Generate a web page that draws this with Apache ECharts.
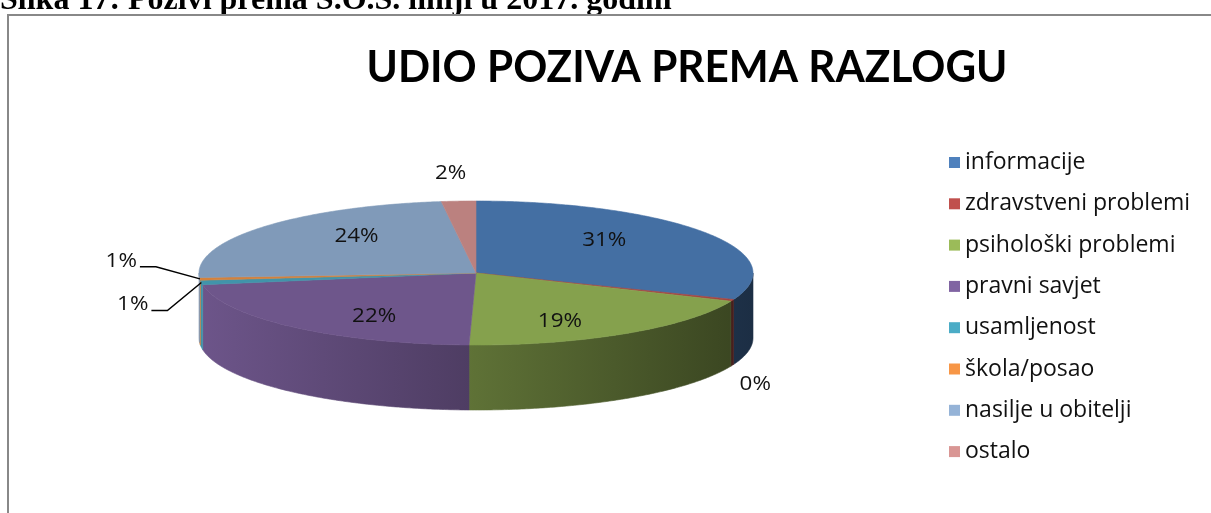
<!DOCTYPE html>
<html>
<head>
<meta charset="utf-8">
<script src="https://cdn.jsdelivr.net/npm/echarts@6/dist/echarts.min.js"></script>
<style>
  html, body { margin: 0; padding: 0; background: #fff; }
  #chart { width: 1211px; height: 513px; }
</style>
</head>
<body>
<div id="chart"></div>
<script>
// podaci
const categories = ['informacije', 'zdravstveni problemi', 'psihološki problemi', 'pravni savjet',
  'usamljenost', 'škola/posao', 'nasilje u obitelji', 'ostalo'];
const shares = [31, 0.4, 19, 22, 1, 0.6, 24, 2];
const colors = ['#4F81BD', '#C0504D', '#9BBB59', '#8064A2', '#4BACC6', '#F79646', '#95B3D7', '#D99694'];

// geometrija pite (elipsa + dubina)
const cx = 476, cy = 273, rx = 277, ry = 72, depth = 65;
const FONT = '"Open Sans"';

const total = shares.reduce((a, b) => a + b, 0);
const starts = [];
let acc = 0;
shares.forEach(v => { starts.push(acc); acc += v; });

function shade(hex, f) {
  const n = parseInt(hex.slice(1), 16);
  const r = Math.round(((n >> 16) & 255) * f);
  const g = Math.round(((n >> 8) & 255) * f);
  const b = Math.round((n & 255) * f);
  return 'rgb(' + r + ',' + g + ',' + b + ')';
}
// kut mjeren od vrha, u smjeru kazaljke
function rim(t, dy) {
  return [cx + rx * Math.sin(t), cy - ry * Math.cos(t) + (dy || 0)];
}

// male vrijednosti na lijevoj strani idu van s linijom
const leftOrder = {};
let leftCount = 0;
shares.forEach((v, i) => {
  const mid = (starts[i] + v / 2) / total * 2 * Math.PI;
  if (v < 3 && Math.sin(mid) < -0.9) leftOrder[i] = leftCount++;
});

function renderSlice(params, api) {
  const i = params.seriesIndex;
  const s = api.value(0) / total * 2 * Math.PI;
  const e = api.value(1) / total * 2 * Math.PI;
  const val = api.value(2);
  const base = colors[i];
  const children = [];
  const steps = Math.max(2, Math.ceil((e - s) / 0.01));

  // bočna strana (vidi se samo prednja polovica)
  const a = Math.max(s, Math.PI / 2), b = Math.min(e, 3 * Math.PI / 2);
  if (b > a) {
    const n = Math.max(2, Math.ceil((b - a) / 0.01));
    const pts = [];
    for (let k = 0; k <= n; k++) pts.push(rim(a + (b - a) * k / n));
    for (let k = n; k >= 0; k--) pts.push(rim(a + (b - a) * k / n, depth));
    const grad = {
      type: 'linear', x: cx - rx, y: 0, x2: cx + rx, y2: 0, global: true,
      colorStops: [{ offset: 0, color: shade(base, 0.85) }, { offset: 1, color: shade(base, 0.36) }]
    };
    children.push({ type: 'polygon', z2: 1, shape: { points: pts }, style: { fill: grad, stroke: grad, lineWidth: 0.6 } });
  }

  // gornja ploha
  const top = [[cx, cy]];
  for (let k = 0; k <= steps; k++) top.push(rim(s + (e - s) * k / steps));
  const topColor = shade(base, 0.86);
  children.push({ type: 'polygon', z2: 10, shape: { points: top }, style: { fill: topColor, stroke: topColor, lineWidth: 0.6 } });

  // oznaka
  const mid = (s + e) / 2;
  const txt = Math.round(val) + '%';
  const ts = { text: txt, font: '20px ' + FONT, fill: '#111', verticalAlign: 'middle' };
  if (val >= 3) {
    children.push({ type: 'text', z2: 20, scaleX: 1.12, x: cx + rx * 0.56 * Math.sin(mid), y: cy - ry * 0.8 * Math.cos(mid),
      style: Object.assign(ts, { align: 'center' }) });
  } else if (i in leftOrder) {
    const p = rim(mid);
    const k = leftOrder[i];
    const right = k === 0 ? p[0] - 53 : p[0] - 63;
    const ly = k === 0 ? p[1] + 22 : p[1] - 18;
    children.push({ type: 'text', z2: 20, scaleX: 1.12, x: right, y: ly, style: Object.assign(ts, { align: 'right' }) });
    children.push({ type: 'polyline', z2: 15, shape: { points: [[right + 3, ly + 6], [right + 19, ly + 6], p] },
      style: { stroke: '#000', lineWidth: 1.5, fill: null } });
  } else {
    const p = rim(mid);
    const front = Math.cos(mid) < 0;
    const lx = front ? p[0] + 23 * Math.sign(Math.sin(mid)) : p[0] - 8;
    const ly = front ? p[1] + depth + 19 : p[1] - 28;
    children.push({ type: 'text', z2: 20, scaleX: 1.12, x: lx, y: ly, style: Object.assign(ts, { align: 'center' }) });
  }
  return { type: 'group', children: children };
}

const series = categories.map((name, i) => ({
  name: name,
  type: 'custom',
  coordinateSystem: 'none',
  itemStyle: { color: colors[i] },
  data: [[starts[i], starts[i] + shares[i], shares[i]]],
  renderItem: renderSlice,
  silent: true
}));

const chart = echarts.init(document.getElementById('chart'));
chart.setOption({
  animation: false,
  backgroundColor: '#fff',
  legend: {
    orient: 'vertical',
    left: 944,
    top: 146,
    itemWidth: 11,
    itemHeight: 11,
    itemGap: 18.3,
    icon: 'rect',
    data: categories,
    textStyle: { fontFamily: FONT, fontSize: 23, color: '#111' }
  },
  graphic: [
    { type: 'text', x: 0, y: 1, style: { text: 'Slika 17: Pozivi prema S.O.S. liniji u 2017. godini',
      font: 'bold 32px "Liberation Serif"', fill: '#000', verticalAlign: 'middle' } },
    { type: 'rect', shape: { x: 8, y: 15, width: 1220, height: 520 }, style: { fill: null, stroke: '#888', lineWidth: 2 } },
    { type: 'text', x: 687, y: 68, scaleX: 0.96, style: { text: 'UDIO POZIVA PREMA RAZLOGU', font: 'bold 44px Lato',
      fill: '#000', align: 'center', verticalAlign: 'middle' } }
  ],
  series: series
});
</script>
</body>
</html>
